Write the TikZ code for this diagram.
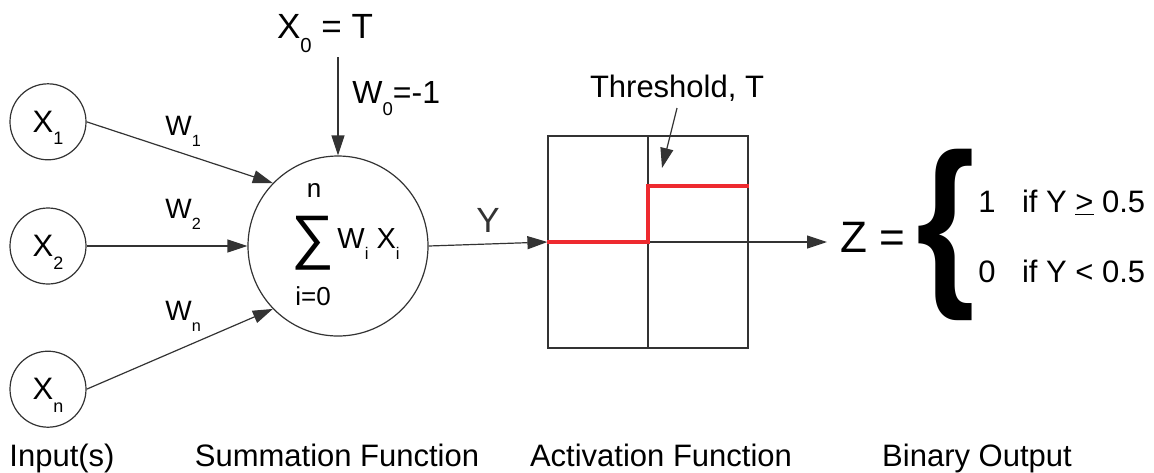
\documentclass[tikz,border=0pt]{standalone}
\usepackage{fontspec}
\setmainfont{Liberation Sans}
\usetikzlibrary{positioning, arrows.meta}
\definecolor{stepred}{HTML}{EE2A2F}
\definecolor{linegray}{HTML}{333333}
\newcommand{\lowidx}[1]{\raisebox{-0.4em}[0pt][0pt]{\scalebox{0.58}{#1}}}

\begin{document}
\begin{tikzpicture}[
	x=0.5pt, y=-0.5pt,
	>={Triangle[length=10pt, width=6.5pt]},
	font=\fontsize{15.5}{18}\selectfont,
	% Define styles
	inputnode/.style={circle, draw=linegray, line width=0.6pt, minimum size=38pt, inner sep=0pt},
	sumnode/.style={circle, draw=linegray, line width=0.6pt, minimum size=90pt, inner sep=0pt},
	plotbox/.style={rectangle, draw=linegray, line width=0.6pt, minimum width=100pt, minimum height=106pt, inner sep=0pt},
	weight/.style={anchor=base west, inner sep=0pt, font=\fontsize{14}{16}\selectfont},
	caption/.style={anchor=base, font=\fontsize{15.5}{18}\selectfont},
	arrow/.style={->, linegray, line width=0.6pt},
	stepline/.style={stepred, line width=1.6pt}
	]
	\useasboundingbox (0,0) rectangle (1154,472);
	
	% 1. Inputs
	\node[inputnode] (x2) at (48,246) {X\lowidx{2}};
	\node[inputnode, above=23.5pt of x2] (x1) {X\lowidx{1}};
	\node[inputnode, below=33pt of x2] (xn) {X\lowidx{n}};
	
	% 2. Summation
	\node[sumnode] (sum) at (338,246) {};
	\node (sigma) at (313,243) {\fontsize{30}{30}\selectfont ∑};
	\node (upper) at (314,190) {\fontsize{13}{15}\selectfont n};
	\node (lower) at (313,296) {\fontsize{13}{15}\selectfont i=0};
	\node[anchor=base west, inner sep=0pt] (term) at (337,248) {\fontsize{14.5}{16}\selectfont W\lowidx{i} X\lowidx{i}};
	
	% Bias input and weights
	\node[anchor=base, font=\fontsize{17.5}{20}\selectfont] (xzero) at (325,38) {X\lowidx{0} = T};
	\node[weight, font=\fontsize{16}{18}\selectfont] (wzero) at (352,103) {W\lowidx{0}=-1};
	\node[weight] (wone) at (165,135) {W\lowidx{1}};
	\node[weight] (wtwo) at (165,218) {W\lowidx{2}};
	\node[weight] (wn) at (165,320) {W\lowidx{n}};
	
	\draw[arrow] (x1.east) -- (sum.136);
	\draw[arrow] (x2.east) -- (sum.west);
	\draw[arrow] (xn.east) -- (sum.224);
	\draw[arrow] ([yshift=-6pt]xzero.south -| sum.north) -- (sum.north);
	
	% 3. Activation
	\node[plotbox] (plot) at (648,242) {};
	\draw[linegray, line width=0.6pt] (plot.north) -- (plot.south);
	\draw[linegray, line width=0.6pt] (plot.west) -- (plot.east);
	\coordinate (thr) at (648,186);
	\draw[stepline] (plot.west) -- (plot.center) -- (thr) -- (thr -| plot.east);
	
	\node[anchor=base] (thrlabel) at (677,97) {Threshold, T};
	\coordinate (thrtip) at (662,168);
	\draw[arrow] (thrlabel.south) -- (thrtip);
	
	\draw[arrow] (sum.east) -- node[above=2pt, font=\fontsize{17.5}{20}\selectfont] (ylabel) {Y} (plot.west);
	
	% 4. Output
	\node[anchor=base west, inner sep=0pt, font=\fontsize{22}{24}\selectfont] (zeq) at (840,252) {Z =};
	\draw[arrow] (plot.east) -- ([xshift=-6.5pt]plot.east -| zeq.west);
	\node[anchor=base, font=\fontsize{92}{92}\bfseries] (brace) at (946,282) {\scalebox{0.82}[1]{\{}};
	\node[anchor=base west, inner sep=0pt] (caseone) at (978,212) {1\hspace{0.85em}if Y \underline{>} 0.5};
	\node[anchor=base west, inner sep=0pt] (casezero) at (978,282) {0\hspace{0.85em}if Y < 0.5};
	
	% Captions
	\node[caption] (capin) at (62,466) {Input(s)};
	\node[caption] (capsum) at (337,466) {Summation Function};
	\node[caption] (capact) at (661,466) {Activation Function};
	\node[caption] (capout) at (977,466) {Binary Output};
\end{tikzpicture}
\end{document}
